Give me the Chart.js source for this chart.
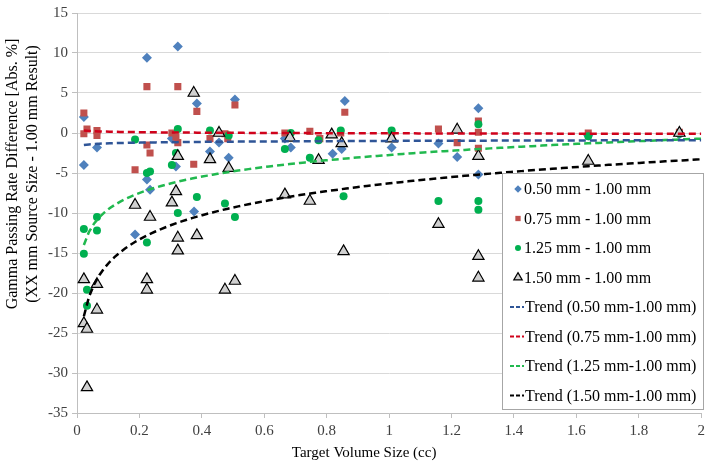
<!DOCTYPE html>
<html>
<head>
<meta charset="utf-8">
<script src="https://cdn.jsdelivr.net/npm/chart.js@4.4.1/dist/chart.umd.min.js"></script>
<style>
  html, body { margin: 0; padding: 0; background: #fff; }
  #wrap { width: 709px; height: 471px; }
</style>
</head>
<body>
<div id="wrap"><canvas id="grafico" width="709" height="471"></canvas></div>
<script>
// valores (volumen en cc, diferencia en %)
const x050 = [0.022,0.022,0.064,0.224,0.323,0.384,0.426,0.455,0.486,0.224,0.234,0.304,0.317,0.186,0.375,
              0.506,0.858,0.666,0.685,0.819,0.848,1.008,1.286,1.158,1.218,1.286,1.638,1.93];
const y050 = [2.0,-4.0,-1.8,9.4,10.8,3.7,-2.3,-1.2,-3.1,-5.8,-7.1,-0.7,-4.2,-12.7,-9.8,
              4.2,4.0,-0.7,-1.8,-2.6,-2.0,-1.8,3.1,-1.3,-3.0,-5.2,-0.3,-0.2];

const x075 = [0.022,0.032,0.022,0.064,0.064,0.224,0.323,0.384,0.224,0.234,0.186,0.374,0.304,0.317,0.323,0.426,
              0.506,0.858,0.474,0.483,0.666,0.746,0.778,0.845,1.008,1.158,1.218,1.286,1.286,1.286,1.638,1.93];
const y075 = [2.5,0.5,-0.1,0.3,-0.3,5.8,5.8,2.7,-1.5,-2.5,-4.6,-3.9,0.0,-0.5,-1.2,-0.7,
              3.5,2.6,-0.1,-0.7,0.0,0.2,-0.7,0.0,0.0,0.5,-1.2,1.5,0.1,-1.9,0.0,0.1];

const x125 = [0.186,0.224,0.234,0.323,0.317,0.304,0.384,0.426,0.474,0.486,0.022,0.064,0.064,0.022,0.032,0.032,
              0.224,0.323,0.506,0.854,0.666,0.685,0.746,0.774,0.845,1.008,1.286,1.158,1.286,1.286,1.638,1.93];
const y125 = [-0.8,-5.0,-4.8,0.5,-2.5,-4.0,-8.0,0.3,-8.8,-0.3,-12.0,-10.5,-12.2,-15.1,-19.6,-21.6,
              -13.7,-10.0,-10.5,-7.9,-2.0,0.0,-3.1,-0.9,0.3,0.3,1.1,-8.5,-8.5,-9.6,-0.4,-0.1];

const x150 = [0.374,0.455,0.323,0.426,0.486,0.317,0.186,0.234,0.304,0.323,0.323,0.384,0.022,0.064,0.224,0.224,0.474,
              0.064,0.022,0.032,0.032,0.506,0.666,0.746,0.854,0.682,0.774,0.816,0.848,1.008,1.218,1.286,1.638,1.93,
              1.158,1.286,1.286];
const y150 = [5.0,0.0,-2.9,-3.3,-4.4,-7.3,-9.0,-10.5,-8.7,-13.1,-14.7,-12.8,-18.3,-18.9,-18.3,-19.6,-19.6,
              -22.1,-23.8,-24.5,-31.8,-18.5,-7.7,-8.5,-14.8,-0.6,-3.4,-0.2,-1.3,-0.7,0.4,-2.9,-3.5,0.0,
              -11.4,-15.4,-18.1];

// lineas de tendencia logaritmicas (y = a ln x + b), coeficientes
const trendA = [0.133, -0.089, 2.95, 4.35];
const trendB = [-0.99, -0.04, -2.75, -6.3];
const trendDesde = [0.022, 0.022, 0.022, 0.022];
const trendHasta = 2;

const nombres = ["0.50 mm - 1.00 mm","0.75 mm - 1.00 mm","1.25 mm - 1.00 mm","1.50 mm - 1.00 mm"];
const nombresTrend = ["Trend (0.50 mm-1.00 mm)","Trend (0.75 mm-1.00 mm)","Trend (1.25 mm-1.00 mm)","Trend (1.50 mm-1.00 mm)"];

const FUENTE = "'Liberation Serif', 'Times New Roman', serif";

function puntos(xs, ys){
    let p = [];
    for(let i=0;i<xs.length;i++){
        p.push({x: xs[i], y: ys[i]});
    }
    return p;
}

function curvaTrend(i){
    let p = [];
    let desde = trendDesde[i];
    for(let k=0;k<=120;k++){
        let x = desde + (trendHasta - desde)*k/120;
        p.push({x: x, y: trendA[i]*Math.log(x) + trendB[i]});
    }
    return p;
}

const estilos = [
    {pointStyle:'rectRot', radius:5, bg:'#4f81bd', borde:'#4f81bd', bw:0},
    {pointStyle:'rect', radius:5, bg:'#c0504d', borde:'#c0504d', bw:0},
    {pointStyle:'circle', radius:4, bg:'#00b050', borde:'#00b050', bw:0},
    {pointStyle:'triangle', radius:6.5, bg:'#d0d0d0', borde:'#000000', bw:1.2}
];
const coloresTrend = ['#2f5597','#d0021b','#21b94f','#000000'];

const xs = [x050, x075, x125, x150];
const ys = [y050, y075, y125, y150];

let datasets = [];
for(let i=0;i<4;i++){
    datasets.push({
        type: 'scatter',
        label: nombres[i],
        data: puntos(xs[i], ys[i]),
        pointStyle: estilos[i].pointStyle,
        pointRadius: estilos[i].radius,
        pointBackgroundColor: estilos[i].bg,
        pointBorderColor: estilos[i].borde,
        pointBorderWidth: estilos[i].bw,
        showLine: false,
        order: 5 - i
    });
}
for(let i=0;i<4;i++){
    datasets.push({
        type: 'line',
        label: nombresTrend[i],
        data: curvaTrend(i),
        borderColor: coloresTrend[i],
        borderWidth: 2.5,
        borderDash: [7,4],
        pointRadius: 0,
        fill: false,
        tension: 0,
        order: 0
    });
}

// leyenda dentro del area del grafico + titulos de ejes
const extras = {
    id: 'extras',
    afterDraw(chart){
        const ctx = chart.ctx;
        const area = chart.chartArea;
        ctx.save();

        // titulo eje x
        ctx.fillStyle = '#000';
        ctx.font = '15px ' + FUENTE;
        ctx.textAlign = 'center';
        ctx.textBaseline = 'middle';
        ctx.fillText('Target Volume Size (cc)', (area.left + area.right)/2 - 25, 453);

        // titulo eje y (dos lineas)
        ctx.save();
        ctx.translate(13, 174);
        ctx.rotate(-Math.PI/2);
        ctx.font = '16px ' + FUENTE;
        ctx.fillText('Gamma Passing Rate Difference [Abs. %]', 0, 0);
        ctx.fillText('(XX mm Source Size - 1.00 mm Result)', 0, 20);
        ctx.restore();

        // caja de leyenda
        const bx = 502, by = 173, bw = 201, bh = 236;
        ctx.fillStyle = '#fff';
        ctx.fillRect(bx, by, bw, bh);
        ctx.strokeStyle = '#a6a6a6';
        ctx.lineWidth = 1;
        ctx.strokeRect(bx + 0.5, by + 0.5, bw, bh);

        ctx.font = '16px ' + FUENTE;
        ctx.textAlign = 'left';
        for(let i=0;i<8;i++){
            let yy = by + 16 + i*29.5;
            if(i < 4){
                let e = estilos[i];
                ctx.fillStyle = e.bg;
                ctx.strokeStyle = e.borde;
                ctx.lineWidth = e.bw;
                Chart.helpers.drawPoint(ctx, {pointStyle: e.pointStyle, radius: e.radius*0.75, rotation: 0, borderWidth: e.bw}, 518, yy);
                ctx.fillStyle = '#000';
                ctx.fillText(nombres[i], 524, yy + 1);
            }else{
                ctx.strokeStyle = coloresTrend[i-4];
                ctx.lineWidth = 2;
                ctx.setLineDash([4,2]);
                ctx.beginPath();
                ctx.moveTo(510, yy);
                ctx.lineTo(524, yy);
                ctx.stroke();
                ctx.setLineDash([]);
                ctx.fillStyle = '#000';
                ctx.fillText(nombresTrend[i-4], 525, yy + 1);
            }
        }
        ctx.restore();
    }
};

function graficar(){
    const ctx = document.getElementById('grafico').getContext('2d');
    new Chart(ctx, {
        type: 'scatter',
        data: { datasets: datasets },
        options: {
            responsive: false,
            animation: false,
            layout: { padding: { top: 5, right: 7, left: 0, bottom: 0 } },
            plugins: {
                legend: { display: false },
                tooltip: { enabled: false }
            },
            scales: {
                x: {
                    type: 'linear',
                    min: 0, max: 2,
                    ticks: {
                        stepSize: 0.2,
                        color: '#404040',
                        font: { family: FUENTE, size: 15 },
                        padding: 4,
                        callback: v => +v.toFixed(1)
                    },
                    grid: { drawOnChartArea: false, drawTicks: true, tickLength: 5, color: '#bfbfbf' },
                    border: { color: '#bfbfbf' },
                    afterFit: s => { s.height = 58; }
                },
                y: {
                    min: -35, max: 15,
                    ticks: {
                        stepSize: 5,
                        color: '#404040',
                        font: { family: FUENTE, size: 15 },
                        padding: 4
                    },
                    grid: { color: '#d9d9d9', tickLength: 5, tickColor: '#bfbfbf' },
                    border: { color: '#bfbfbf' },
                    afterFit: s => { s.width = 77; }
                }
            }
        },
        plugins: [extras]
    });
}

window.addEventListener('load', graficar);
</script>
</body>
</html>
